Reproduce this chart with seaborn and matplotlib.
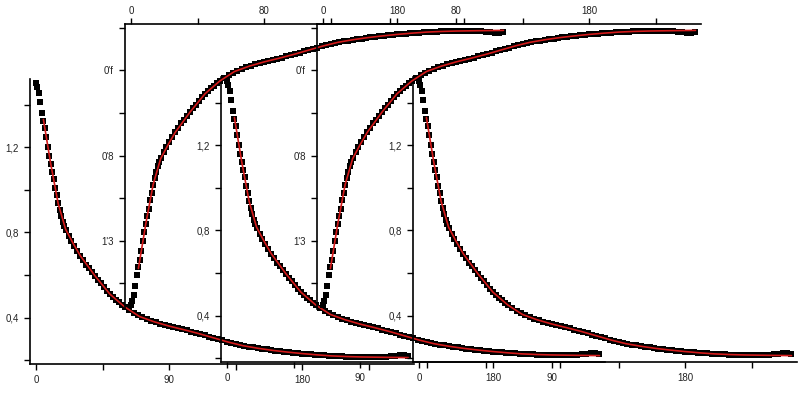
import matplotlib
matplotlib.use('Agg')
import matplotlib.pyplot as plt
import seaborn as sns

# measured points (time, signal) - the same trace is repeated in every panel
t_data = [0, 1, 2, 3, 4, 5, 6, 7, 8, 9, 10, 11, 12, 13, 14, 15, 16, 17, 18, 19, 20,
          22, 24, 26, 28, 30, 32, 34, 36, 38, 40, 42, 44, 46, 48, 50, 52, 54, 56, 58, 60,
          63, 66, 69, 72, 75, 78, 81, 84, 87, 90, 93, 96, 99, 102, 105, 108, 111, 114,
          117, 120, 123, 126, 129, 132, 135, 138, 141, 144, 147, 150, 153, 156, 159,
          162, 165, 168, 171, 174, 177, 180, 183, 186, 189, 192, 195, 198, 201, 204,
          207, 210, 213, 216, 219, 222, 225, 228, 231, 234, 237, 240, 243, 246, 249, 252]
v_data = [1.50, 1.483, 1.453, 1.41, 1.36, 1.325, 1.29, 1.25, 1.20, 1.16, 1.12, 1.085,
          1.05, 1.01, 0.975, 0.94, 0.905, 0.875, 0.85, 0.83, 0.812,
          0.785, 0.76, 0.735, 0.713, 0.69, 0.67, 0.648, 0.633, 0.615, 0.595, 0.578,
          0.562, 0.545, 0.527, 0.51, 0.495, 0.482, 0.471, 0.46, 0.45,
          0.437, 0.423, 0.412, 0.402, 0.393, 0.385, 0.378, 0.372, 0.366, 0.360, 0.355,
          0.350, 0.345, 0.340, 0.334, 0.328, 0.322, 0.317, 0.311, 0.305, 0.299, 0.293,
          0.287, 0.281, 0.276, 0.271, 0.266, 0.263, 0.260, 0.257, 0.254, 0.251, 0.248,
          0.245, 0.242, 0.239, 0.237, 0.235, 0.233, 0.231, 0.229, 0.227, 0.225, 0.223,
          0.222, 0.221, 0.220, 0.219, 0.218, 0.217, 0.216, 0.215, 0.215, 0.214, 0.214,
          0.214, 0.215, 0.216, 0.217, 0.218, 0.221, 0.224, 0.223, 0.221]

# fitted curve (red)
t_fit = [5, 10, 15, 20, 25, 30, 40, 50, 60, 70, 80, 90, 100, 110, 120, 130, 140,
         150, 160, 170, 180, 190, 200, 210, 220, 230, 240, 252]
v_fit = [1.33, 1.12, 0.935, 0.815, 0.75, 0.69, 0.595, 0.51, 0.45, 0.405, 0.38, 0.36,
         0.343, 0.325, 0.305, 0.285, 0.268, 0.256, 0.246, 0.238, 0.231, 0.225, 0.220,
         0.217, 0.215, 0.214, 0.213, 0.212]

x_major = [0, 90, 180]
x_minor = [45, 135, 225]
decay_xlabels = ['0', '90', '180']
rise_xlabels = ['0', '80', '180']
y_major = [0.4, 0.8, 1.2]
y_minor = [0.2, 0.6, 1.0, 1.4]
decay_ylabels = ['0,4', '0,8', '1,2']
rise_ylabels = ["0'f", "0'8", "1'3"]

sns.set_style('ticks')
plt.rcParams['font.family'] = ['Liberation Sans', 'DejaVu Sans']

W, H = 802, 393
PW, PH = 384.3, 285
fig = plt.figure(figsize=(W / 100, H / 100), dpi=100)
fig.patch.set_facecolor('white')


def panel(left, top, rise):
    ax = fig.add_axes([left / W, 1 - (top + PH) / H, PW / W, PH / H])
    ax.patch.set_alpha(0)
    sns.scatterplot(x=t_data, y=v_data, marker='s', s=15, color='black',
                    linewidth=0, ax=ax, zorder=2, legend=False)
    sns.lineplot(x=t_fit, y=v_fit, color='#d41a1a', lw=1.2, ax=ax, zorder=3)
    ax.set_xlim(-4, 256)
    ax.set_xticks(x_major)
    ax.set_xticks(x_minor, minor=True)
    ax.set_yticks(y_major)
    ax.set_yticks(y_minor, minor=True)
    if rise:
        ax.set_ylim(1.52, 0.182)
        ax.xaxis.tick_top()
        ax.set_xticklabels(rise_xlabels)
        ax.set_yticklabels(rise_ylabels)
        shown = ['top', 'left']
    else:
        ax.set_ylim(0.182, 1.52)
        ax.xaxis.tick_bottom()
        ax.set_xticklabels(decay_xlabels)
        ax.set_yticklabels(decay_ylabels)
        shown = ['bottom', 'left']
    for name, sp in ax.spines.items():
        sp.set_visible(name in shown)
        sp.set_color('black')
        sp.set_linewidth(1.2)
    ax.yaxis.tick_left()
    ax.tick_params(which='both', direction='out', length=4, width=1,
                   color='black', labelsize=7, labelcolor='#222222', pad=4)
    if rise:
        ax.tick_params(axis='x', which='both', pad=1.5)
    ax.set_xlabel('')
    ax.set_ylabel('')
    return ax


panel(30.1, 79, False)
panel(221.1, 77, False)
panel(413.1, 77, False)
panel(125.1, 24, True)
panel(317.1, 24, True)

fig.savefig('out.png', dpi=100)
